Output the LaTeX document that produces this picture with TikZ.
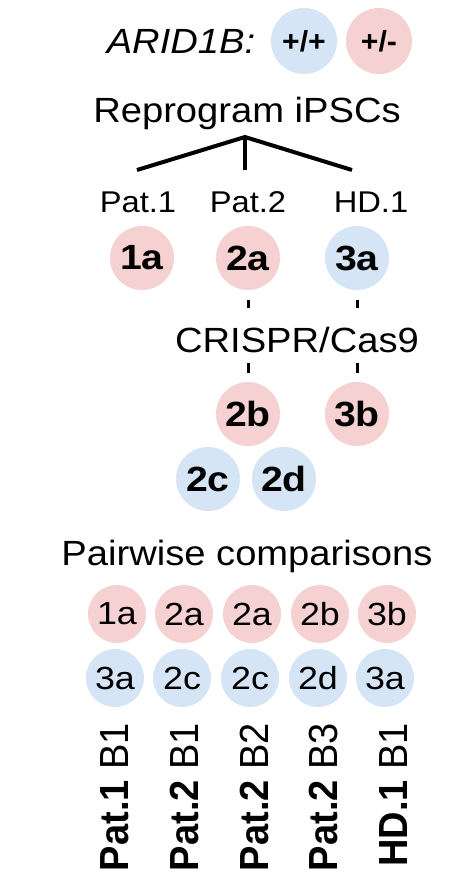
\documentclass[tikz,border=0pt]{standalone}
\usepackage{fontspec}
\usepackage{graphicx}
\setmainfont{Liberation Sans}
\definecolor{pinkc}{HTML}{F5D1D1}
\definecolor{bluec}{HTML}{D6E5F6}
\newcommand\sxa[1]{\scalebox{1.12}[1]{#1}}
\newcommand\sxb[1]{\scalebox{1.04}[1]{#1}}
\begin{document}
\begin{tikzpicture}[x=1pt,y=-1pt,
  txt/.style={font=\fontsize{35}{42}\selectfont, xscale=1.09, anchor=base, inner sep=0pt},
  lab/.style={font=\fontsize{30}{36}\selectfont, xscale=1.09, anchor=base, inner sep=0pt},
  dot/.style={circle, inner sep=0pt, minimum size=64pt, font=\bfseries\fontsize{35}{40}\selectfont},
  pk/.style={dot, fill=pinkc},
  bl/.style={dot, fill=bluec},
  gen/.style={circle, inner sep=0pt, minimum size=66pt, font=\bfseries\fontsize{29}{34}\selectfont},
  pair/.style={circle, inner sep=0pt, minimum size=58pt, font=\fontsize{32}{38}\selectfont},
  ppk/.style={pair, fill=pinkc},
  pbl/.style={pair, fill=bluec},
  vlab/.style={rotate=90, yscale=1.07, anchor=base east, inner sep=0pt, font=\fontsize{38}{46}\selectfont},
  link/.style={line width=4pt, line join=miter},
  dashseg/.style={line width=3pt}]
\useasboundingbox (0,0) rectangle (476,894);

% legend
\node[txt] (arid) at (181,53) {\itshape ARID1B:};
\node[gen, fill=bluec] (wt) at (304,41) {\sxb{+/+}};
\node[gen, fill=pinkc] (het) at (379,41) {\sxb{+/-}};

% reprogramming
\node[txt] (repro) at (247,122) {Reprogram iPSCs};
\coordinate (apex) at (245,137);
\coordinate (tl) at (137,170);
\coordinate (tm) at (245,170);
\coordinate (tr) at (352,170);
\draw[link] (tl) -- (apex) -- (tr);
\draw[link] (apex) -- (tm);

\node[lab] (p1) at (138,212) {Pat.1};
\node[lab] (p2) at (248,212) {Pat.2};
\node[lab] (hd) at (371,212) {HD.1};

\node[pk] (c1a) at (142,258) {\sxa{1a}};
\node[pk] (c2a) at (248,258) {\sxa{2a}};
\node[bl] (c3a) at (357,258) {\sxa{3a}};

\node[txt] (crispr) at (297,352) {CRISPR/Cas9};

\node[pk] (c2b) at (248,414) {\sxa{2b}};
\node[pk] (c3b) at (357,414) {\sxa{3b}};
\node[bl] (c2c) at (208,479) {\sxa{2c}};
\node[bl] (c2d) at (284,479) {\sxa{2d}};

\draw[dashseg] (c2a.south) ++(0,10) -- ++(0,8);
\draw[dashseg] (c3a.south) ++(0,10) -- ++(0,8);
\draw[dashseg] (c2b.north) ++(0,-19) -- ++(0,10);
\draw[dashseg] (c3b.north) ++(0,-19) -- ++(0,10);

% pairwise comparisons
\node[txt] (pw) at (247,565) {Pairwise comparisons};

\node[ppk] (t1) at (117,614) {\sxa{1a}};
\node[ppk] (t2) at (184,614) {\sxa{2a}};
\node[ppk] (t3) at (252,614) {\sxa{2a}};
\node[ppk] (t4) at (320,614) {\sxa{2b}};
\node[ppk] (t5) at (387,614) {\sxa{3b}};

\node[pbl] (b1) at (115,678) {\sxa{3a}};
\node[pbl] (b2) at (182,678) {\sxa{2c}};
\node[pbl] (b3) at (250,678) {\sxa{2c}};
\node[pbl] (b4) at (318,678) {\sxa{2d}};
\node[pbl] (b5) at (385,678) {\sxa{3a}};

\node[vlab] (v1) at (128,723) {\textbf{Pat.1} B1};
\node[vlab] (v2) at (198,723) {\textbf{Pat.2} B1};
\node[vlab] (v3) at (268,723) {\textbf{Pat.2} B2};
\node[vlab] (v4) at (337,723) {\textbf{Pat.2} B3};
\node[vlab] (v5) at (407,723) {\textbf{HD.1} B1};
\end{tikzpicture}
\end{document}
